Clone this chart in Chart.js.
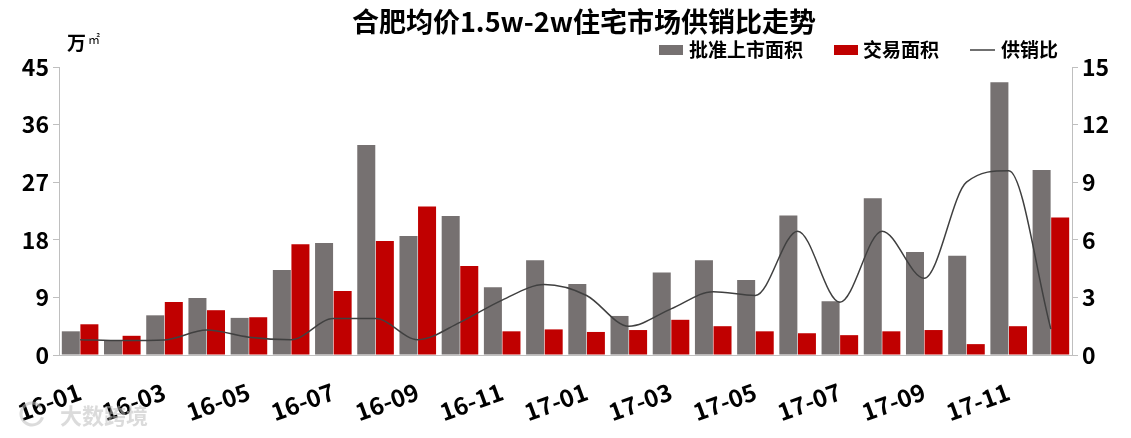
<!DOCTYPE html>
<html>
<head>
<meta charset="utf-8">
<script src="https://cdn.jsdelivr.net/npm/chart.js@4.4.1/dist/chart.umd.min.js"></script>
<style>
  html, body { margin: 0; padding: 0; background: #fff; }
  #wrap { width: 1131px; height: 438px; position: relative; }
</style>
</head>
<body>
<div id="wrap"><canvas id="chart" width="1131" height="438"></canvas></div>
<script>
// months shown on the x axis
const months = ['16-01','16-02','16-03','16-04','16-05','16-06','16-07','16-08','16-09','16-10','16-11','16-12',
                '17-01','17-02','17-03','17-04','17-05','17-06','17-07','17-08','17-09','17-10','17-11','17-12'];

// 批准上市面积 (万㎡)
const approvedArea = [3.7, 2.3, 6.2, 8.9, 5.8, 13.3, 17.5, 32.8, 18.6, 21.7, 10.6, 14.8,
                      11.1, 6.1, 12.9, 14.8, 11.7, 21.8, 8.4, 24.5, 16.1, 15.5, 42.6, 28.9];

// 交易面积 (万㎡)
const tradedArea = [4.8, 3.0, 8.3, 7.0, 5.9, 17.3, 10.0, 17.8, 23.2, 13.9, 3.7, 4.0,
                    3.6, 3.9, 5.5, 4.5, 3.7, 3.4, 3.1, 3.7, 3.9, 1.7, 4.5, 21.5];

// 供销比
const supplyRatio = [0.8, 0.75, 0.78, 1.3, 0.93, 0.8, 1.9, 1.9, 0.8, 1.7, 2.86, 3.67,
                     3.1, 1.5, 2.4, 3.3, 3.1, 6.45, 2.75, 6.45, 4.0, 9.0, 9.6, 1.35];

const leftTicks = [0, 45, 9];
const rightTicks = [0, 15, 3];

const FONT = "'Noto Sans CJK SC', 'Noto Sans', sans-serif";
const GRAY = '#767171';
const RED = '#c00000';
const LINE = '#404040';
const AXIS = '#bfbfbf';

// title, legend, unit and watermark drawn by hand so they sit where the original has them
const decorations = {
    id: 'decorations',
    afterDraw(chart) {
        const ctx = chart.ctx;
        ctx.save();
        ctx.fillStyle = '#000';
        ctx.textBaseline = 'middle';

        ctx.font = `bold 27px ${FONT}`;
        ctx.textAlign = 'center';
        ctx.fillText('合肥均价1.5w-2w住宅市场供销比走势', 584, 22);

        ctx.textAlign = 'left';
        ctx.font = `bold 19px ${FONT}`;
        ctx.fillText('万', 67, 43);
        ctx.font = `12px ${FONT}`;
        ctx.fillText('㎡', 88, 39);

        // legend
        const ly = 50;
        ctx.font = `bold 19px ${FONT}`;
        ctx.fillStyle = GRAY;
        ctx.fillRect(659, ly - 5, 24, 10);
        ctx.fillStyle = '#000';
        ctx.fillText('批准上市面积', 689, ly);
        ctx.fillStyle = RED;
        ctx.fillRect(834, ly - 5, 24, 10);
        ctx.fillStyle = '#000';
        ctx.fillText('交易面积', 863, ly);
        ctx.strokeStyle = LINE;
        ctx.lineWidth = 1.5;
        ctx.beginPath();
        ctx.moveTo(970, ly);
        ctx.lineTo(995, ly);
        ctx.stroke();
        ctx.fillText('供销比', 1001, ly);

        // watermark
        ctx.fillStyle = 'rgba(190,190,190,0.55)';
        ctx.font = `bold 22px ${FONT}`;
        ctx.fillText('大数跨境', 60, 416);
        ctx.strokeStyle = 'rgba(190,190,190,0.55)';
        ctx.lineWidth = 3;
        ctx.beginPath();
        ctx.arc(32, 414, 11, 0.3, Math.PI * 1.8);
        ctx.stroke();
        ctx.restore();
    }
};

new Chart(document.getElementById('chart').getContext('2d'), {
    type: 'bar',
    data: {
        labels: months,
        datasets: [
            {
                type: 'line',
                label: '供销比',
                data: supplyRatio,
                yAxisID: 'y1',
                borderColor: LINE,
                borderWidth: 1.5,
                pointRadius: 0,
                cubicInterpolationMode: 'monotone',
                fill: false,
                order: 0
            },
            {
                label: '批准上市面积',
                data: approvedArea,
                yAxisID: 'y',
                backgroundColor: GRAY,
                barPercentage: 0.97,
                categoryPercentage: 0.88,
                order: 1
            },
            {
                label: '交易面积',
                data: tradedArea,
                yAxisID: 'y',
                backgroundColor: RED,
                barPercentage: 0.97,
                categoryPercentage: 0.88,
                order: 1
            }
        ]
    },
    options: {
        responsive: false,
        animation: false,
        devicePixelRatio: 1,
        layout: { padding: { top: 67, left: 0, right: 0, bottom: 0 } },
        plugins: {
            legend: { display: false },
            title: { display: false },
            tooltip: { enabled: false }
        },
        scales: {
            x: {
                grid: { display: false, drawTicks: false },
                border: { color: AXIS, width: 1 },
                ticks: {
                    autoSkip: false,
                    minRotation: 20,
                    maxRotation: 20,
                    padding: 22,
                    color: '#000',
                    font: { family: FONT, size: 24, weight: 'bold' },
                    callback: (v, i) => (i % 2 === 0 ? months[i] : '')
                },
                afterFit: axis => {
                    axis.height = 83;
                    // rotated labels must not push the plot area in
                    axis.paddingLeft = 0;
                    axis.paddingRight = 0;
                }
            },
            y: {
                position: 'left',
                min: leftTicks[0],
                max: leftTicks[1],
                ticks: {
                    stepSize: leftTicks[2],
                    padding: 4,
                    color: '#000',
                    font: { family: FONT, size: 23, weight: 'bold' }
                },
                grid: { drawOnChartArea: false, color: AXIS, tickLength: 6 },
                border: { color: AXIS, width: 1 },
                afterFit: axis => { axis.width = 59; }
            },
            y1: {
                position: 'right',
                min: rightTicks[0],
                max: rightTicks[1],
                ticks: {
                    stepSize: rightTicks[2],
                    padding: 4,
                    color: '#000',
                    font: { family: FONT, size: 23, weight: 'bold' }
                },
                grid: { drawOnChartArea: false, color: AXIS, tickLength: 6 },
                border: { color: AXIS, width: 1 },
                afterFit: axis => { axis.width = 59; }
            }
        }
    },
    plugins: [decorations]
});
</script>
</body>
</html>
